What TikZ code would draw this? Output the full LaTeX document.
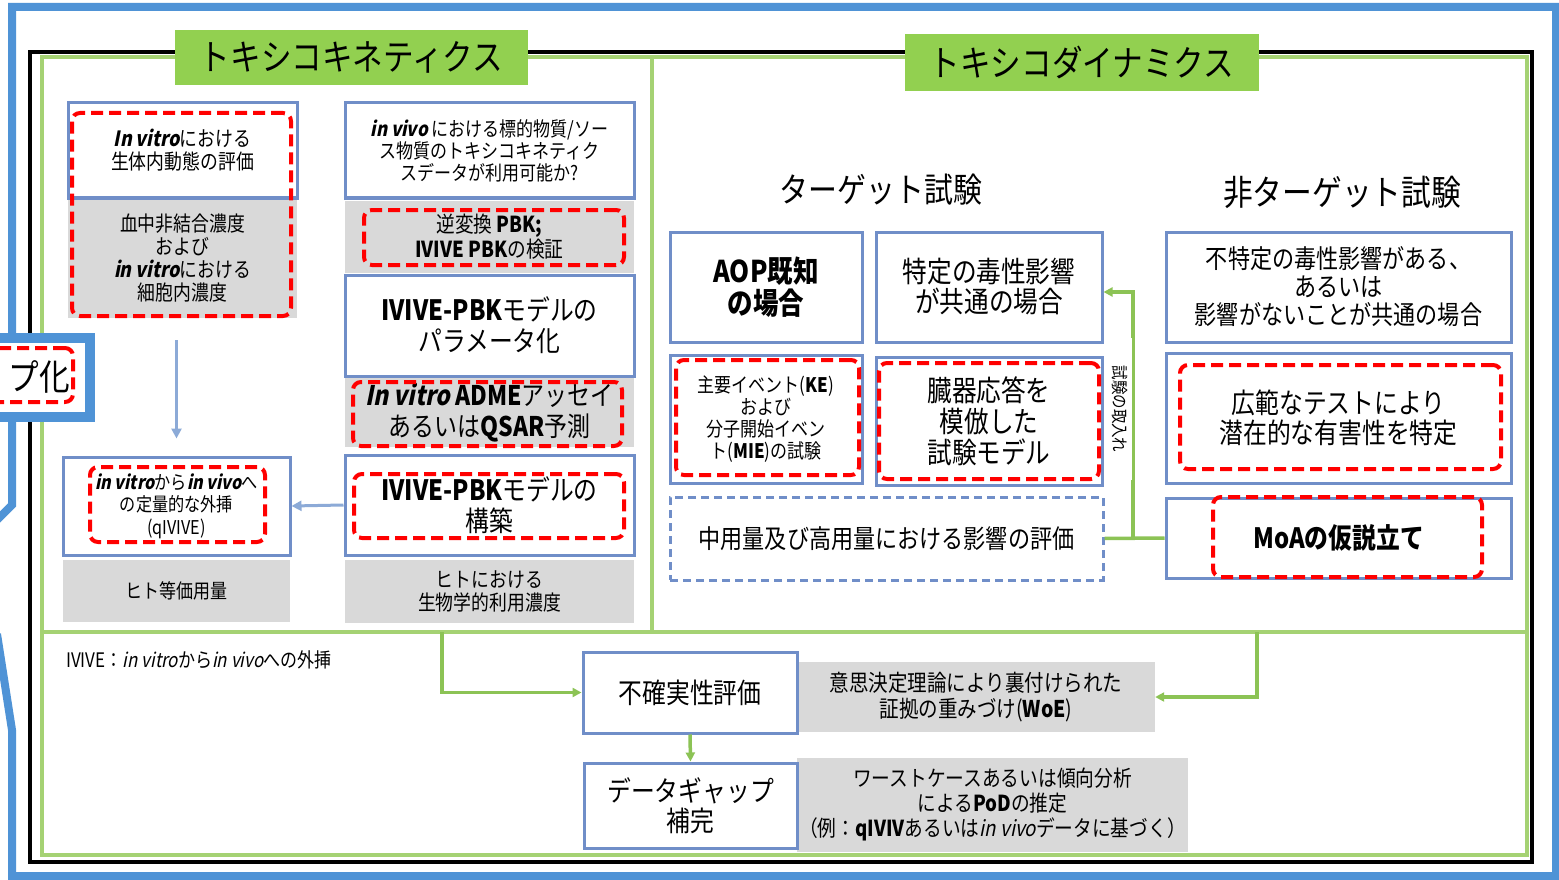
\documentclass[tikz,border=0pt]{standalone}
\usepackage{fontspec}
\setmainfont{Noto Sans CJK JP}[FakeStretch=0.85,AutoFakeSlant=0.2]
\newfontfamily\bifont{Noto Sans CJK JP}[FakeStretch=0.85,BoldFeatures={FakeSlant=0.2}]
\newcommand\bi[1]{{\bifont\bfseries #1}}
\usetikzlibrary{arrows.meta}
\definecolor{frblue}{RGB}{79,147,214}
\definecolor{bxblue}{RGB}{112,142,200}
\definecolor{ttlgreen}{RGB}{146,208,80}
\definecolor{lngreen}{RGB}{165,210,115}
\definecolor{cngreen}{RGB}{140,195,85}
\definecolor{bxgray}{RGB}{217,217,217}
\definecolor{arblue}{RGB}{140,170,215}
\newcommand\fsz[2]{\fontsize{#1pt}{#2pt}\selectfont}
\tikzset{
 wbox/.style={draw=bxblue, line width=3pt, fill=white, align=center, inner sep=0pt},
 gbox/.style={fill=bxgray, align=center, inner sep=0pt},
 rdash/.style={draw=red, line width=4pt, dash pattern=on 12pt off 6pt, rounded corners=8pt, inner sep=0pt},
 ldash/.style={draw=bxblue, line width=3pt, dash pattern=on 8pt off 5pt, fill=white, align=center, inner sep=0pt},
 ttl/.style={fill=ttlgreen, align=center, inner sep=0pt},
 barrow/.style={draw=arblue, line width=3pt, -{Triangle[length=10pt,width=10pt]}},
 gln/.style={draw=cngreen, line width=3.5pt},
 garrow/.style={gln, -{Triangle[length=9pt,width=9pt]}},
 frame/.style={draw=frblue, line width=8pt, line join=miter},
}
\begin{document}
\begin{tikzpicture}[x=1pt,y=-1pt]
\useasboundingbox (0,0) rectangle (1559,880);
\clip (0,0) rectangle (1559,880);
\fill[white] (0,0) rectangle (1559,880);

% outer blue frame
\draw[frame] (-3,634) -- (12,730) -- (12,876) -- (1556,876) -- (1556,7) -- (12,7) -- (12,338);
\draw[frame] (12,417) -- (12,505) -- (-5,522);

% black and green frames
\draw[black, line width=3.5pt] (30,52) rectangle (1532,862);
\draw[lngreen, line width=4pt] (42,57) rectangle (1527,855);
\draw[lngreen, line width=4pt] (42,632) -- (1527,632);
\draw[lngreen, line width=4pt] (652,57) -- (652,632);

% side box
\draw[frblue, line width=10pt, fill=white] (-20,338) rectangle (90,417);
\node[rdash, minimum width=93, minimum height=54] (sr) at (26.5,375) {};
\node[anchor=east, inner sep=0pt, font={\fsz{36}{38}}] (st) at (70,377) {プ化};

% titles
\node[ttl, minimum width=353, minimum height=55, font={\fsz{36}{40}}] (tk) at (351.5,57.5) {トキシコキネティクス};
\node[ttl, minimum width=354, minimum height=57, font={\fsz{36}{40}}] (td) at (1082,62.5) {トキシコダイナミクス};

% left column
\node[gbox, minimum width=229, minimum height=120, font={\fsz{21}{23}}] (ag) at (182.5,258) {血中非結合濃度\\および\\\bi{in vitro}における\\細胞内濃度};
\node[wbox, minimum width=229, minimum height=95, font={\fsz{21}{23}}] (a) at (182.5,150.5) {\bi{In vitro}における\\生体内動態の評価};
\node[rdash, minimum width=219, minimum height=203] (ar) at (181.5,214.5) {};

\node[gbox, minimum width=289, minimum height=72, font={\fsz{22}{25}}] (bg) at (489.5,237) {逆変換 {\bfseries PBK;}\\{\bfseries IVIVE PBK}の検証};
\node[wbox, minimum width=289, minimum height=95, font={\fsz{20}{22}}] (b) at (489.5,150.5) {\bi{in vivo} における標的物質/ソー\\ス物質のトキシコキネティク\\スデータが利用可能か?};
\node[rdash, minimum width=260, minimum height=55] (br) at (494,237.5) {};

\node[gbox, minimum width=289, minimum height=69, font={\fsz{27}{31}}] (cg) at (489.5,412.5) {\bi{In vitro} {\bfseries ADME}アッセイ\\あるいは{\bfseries QSAR}予測};
\node[wbox, minimum width=289, minimum height=101, font={\fsz{28}{31}}] (c) at (489.5,325.5) {{\bfseries IVIVE-PBK}モデルの\\パラメータ化};
\node[rdash, minimum width=269, minimum height=64] (cr) at (487.5,414) {};

\node[gbox, minimum width=289, minimum height=63, font={\fsz{21}{23}}] (dg) at (489.5,591.5) {ヒトにおける\\生物学的利用濃度};
\node[wbox, minimum width=289, minimum height=100, font={\fsz{28}{31}}] (d) at (489.5,505) {{\bfseries IVIVE-PBK}モデルの\\構築};
\node[rdash, minimum width=270, minimum height=64] (dr) at (489,506) {};

\node[gbox, minimum width=227, minimum height=62, font={\fsz{20}{23}}] (eg) at (176.5,591) {ヒト等価用量};
\node[wbox, minimum width=227, minimum height=98, font={\fsz{19}{22.5}}] (e) at (176.5,506) {\bi{in vitro}から\bi{in vivo}へ\\の定量的な外挿\\(qIVIVE)};
\node[rdash, minimum width=175, minimum height=75] (er) at (177.5,504.5) {};

\draw[barrow, shorten <=22pt, shorten >=17pt] (e.north |- ag.south) -- (e.north);
\draw[barrow] (d.west) -- (e.east);

% right column
\node[font={\fsz{34}{38}}] (ht) at (881,190) {ターゲット試験};
\node[font={\fsz{35}{38}}] (hn) at (1342,192) {非ターゲット試験};

\node[wbox, minimum width=192, minimum height=110, font={\fsz{30}{32}\bfseries}] (f) at (766,287) {AOP既知\\の場合};
\node[wbox, minimum width=226, minimum height=110, font={\fsz{29}{30}}] (g) at (989,287) {特定の毒性影響\\が共通の場合};
\node[wbox, minimum width=345, minimum height=110, font={\fsz{26}{28}}] (h) at (1338.5,287) {不特定の毒性影響がある、\\あるいは\\影響がないことが共通の場合};

\node[wbox, minimum width=192, minimum height=128, font={\fsz{20}{22}}] (i) at (766,419) {主要イベント({\bfseries KE})\\および\\分子開始イベン\\ト({\bfseries MIE})の試験};
\node[rdash, minimum width=183, minimum height=115] (ir) at (767.5,417.5) {};
\node[wbox, minimum width=226, minimum height=128, font={\fsz{29}{31}}] (j) at (989,421) {臓器応答を\\模倣した\\試験モデル};
\node[rdash, minimum width=220, minimum height=116] (jr) at (989,421) {};
\node[wbox, minimum width=345, minimum height=130, font={\fsz{28}{30}}] (k) at (1338.5,418) {広範なテストにより\\潜在的な有害性を特定};
\node[rdash, minimum width=321, minimum height=104] (kr) at (1340.5,417) {};

\node[ldash, minimum width=433, minimum height=83, font={\fsz{26}{30}}] (l) at (886.5,538.5) {中用量及び高用量における影響の評価};
\node[wbox, minimum width=345, minimum height=80, font={\fsz{28}{30}\bfseries}] (m) at (1338.5,538) {MoAの仮説立て};
\node[rdash, minimum width=269, minimum height=80] (mr) at (1347.5,537) {};

\coordinate (c3) at (1133,538);
\coordinate (c4) at (1133,292);
\draw[gln] (l.east) -- (m.west);
\draw[garrow] (c3) -- (c4) -- (c4 -| g.east);
\node[fill=white, minimum width=142, minimum height=24, rotate=-90, inner sep=0pt, font={\fsz{17}{18}}] (lbl) at (1120,409) {試験の取入れ};

% bottom
\node[anchor=west, inner sep=0pt, font={\fsz{20}{22}}] (nt) at (66,660) {IVIVE：\textit{in vitro}から\textit{in vivo}への外挿};

\node[gbox, minimum width=358, minimum height=70, font={\fsz{23}{26}}] (ng) at (976,697) {意思決定理論により裏付けられた\\証拠の重みづけ({\bfseries WoE})};
\node[wbox, minimum width=214, minimum height=81, font={\fsz{28}{30}}] (n) at (690,692.5) {不確実性評価};
\node[gbox, minimum width=391, minimum height=94, font={\fsz{22}{25}}] (og) at (992.5,805) {ワーストケースあるいは傾向分析\\による{\bfseries PoD}の推定\\（例：{\bfseries qIVIV}あるいは\textit{in vivo}データに基づく）};
\node[wbox, minimum width=213, minimum height=85, font={\fsz{28}{30}}] (o) at (690.5,805.5) {データギャップ\\補完};

\coordinate (c1) at (442,632);
\coordinate (c2) at (1257,632);
\draw[garrow] (c1) |- (n.west);
\draw[garrow] (c2) |- (ng.east);
\draw[garrow] (n.south) -- (o.north);
\end{tikzpicture}
\end{document}
